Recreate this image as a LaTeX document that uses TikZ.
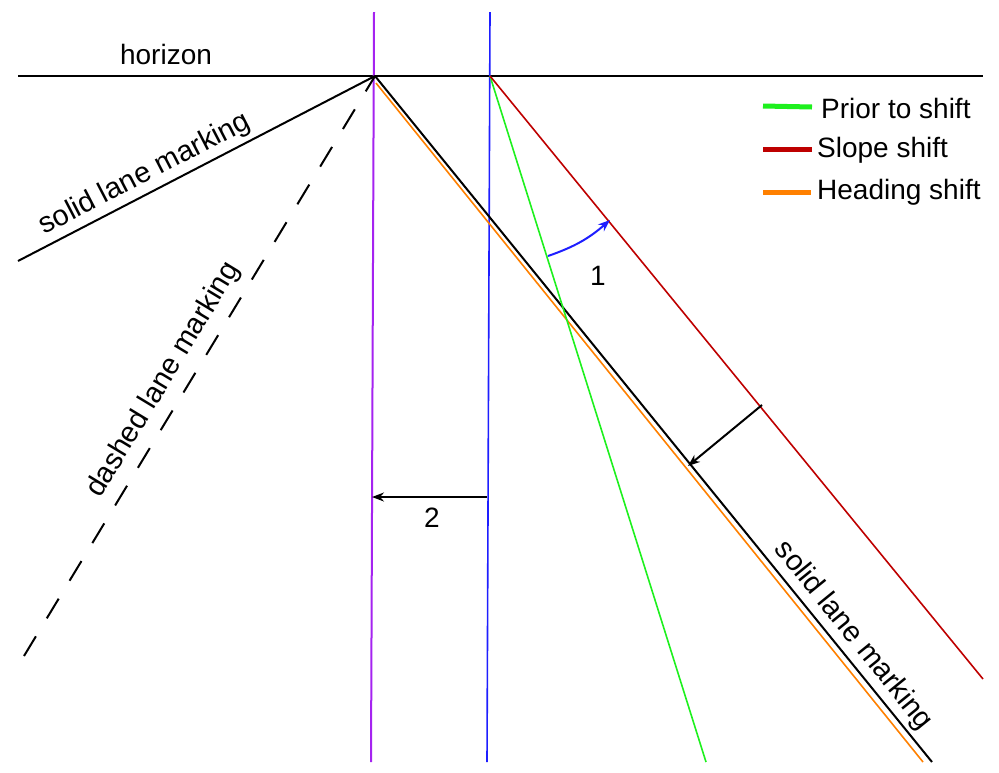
\documentclass[tikz,border=0pt]{standalone}
\usepackage{fontspec}
\setmainfont{Liberation Sans}
\usetikzlibrary{arrows.meta}
\definecolor{cpurple}{RGB}{165,35,240}
\definecolor{cblue}{RGB}{30,30,255}
\definecolor{cgreen}{RGB}{30,240,30}
\definecolor{cred}{RGB}{190,0,0}
\definecolor{corange}{RGB}{255,128,0}
\begin{document}
\begin{tikzpicture}[x=1pt,y=-1pt,
  lbl/.style={font=\fontsize{28}{31}\selectfont, inner sep=0pt},
  slbl/.style={font=\fontsize{29}{32}\selectfont, sloped, above},
  blackline/.style={line width=2pt, black},
  colline/.style={line width=1.6pt},
  arr/.style={-{Stealth[length=12pt,width=9pt]}, line width=2pt},
  legline/.style={line width=5pt}]
\useasboundingbox (0,0) rectangle (999,772);
% key points
\coordinate (vp) at (375,76);
\coordinate (vp2) at (490,76);
\coordinate (hl) at (18,76);
\coordinate (hr) at (983,76);
\coordinate (pt) at (374,12);
\coordinate (pb) at (371,762);
\coordinate (bt) at (490,12);
\coordinate (bb) at (487,762);
\coordinate (ls) at (18,261);
\coordinate (ds) at (24,656);
\coordinate (rs) at (932,762);
\coordinate (os) at (376,83);
\coordinate (oe) at (923,762);
\coordinate (ge) at (706,762);
\coordinate (re) at (983,679);
\coordinate (a1s) at (762,405);
\coordinate (a1e) at (688,466);
\coordinate (a2s) at (487,497);
\coordinate (a2e) at (372,497);
\coordinate (g1) at (548,256);
\coordinate (r1) at (610,220);
% horizon
\draw[blackline] (hl) -- (hr);
\node[lbl, anchor=base] (hz) at (166,64) {horizon};
% verticals
\draw[line width=2pt, cpurple] (pt) -- (pb);
\draw[colline, cblue] (bt) -- (bb);
% left lane markings
\draw[blackline] (ls) -- (vp) node[slbl, pos=0.38, inner sep=4pt] (lsl) {solid lane marking};
\draw[blackline, dash pattern=on 23pt off 21pt] (ds) -- (vp) node[slbl, pos=0.455, inner sep=9pt] (dsl) {dashed lane marking};
% right lines
\draw[colline, corange] (os) -- (oe);
\draw[blackline] (vp) -- (rs) node[slbl, pos=0.833, inner sep=4pt] (rsl) {solid lane marking};
\draw[colline, cgreen] (vp2) -- (ge);
\draw[colline, cred] (vp2) -- (re);
% arrows
\draw[arr] (a1s) -- (a1e);
\draw[arr] (a2s) -- (a2e);
\draw[arr, cblue] (g1) to[bend right=11] (r1);
\node[lbl, anchor=base] (n1) at (598,285) {1};
\node[lbl, anchor=base] (n2) at (432,527) {2};
% legend
\coordinate (lg1a) at (763,106); \coordinate (lg1b) at (812,107);
\coordinate (lg2a) at (763,149); \coordinate (lg2b) at (812,149);
\coordinate (lg3a) at (763,192); \coordinate (lg3b) at (811,192);
\draw[legline, cgreen] (lg1a) -- (lg1b);
\draw[legline, cred] (lg2a) -- (lg2b);
\draw[legline, corange] (lg3a) -- (lg3b);
\node[lbl, anchor=base west] (t1) at (821,118) {Prior to shift};
\node[lbl, anchor=base west] (t2) at (817,157) {Slope shift};
\node[lbl, anchor=base west] (t3) at (817,199) {Heading shift};
\end{tikzpicture}
\end{document}
